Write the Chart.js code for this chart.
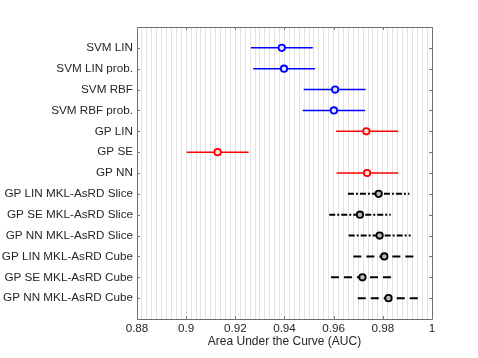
<!DOCTYPE html>
<html><head><meta charset="utf-8">
<script src="https://cdn.jsdelivr.net/npm/chart.js@4"></script>
<style>html,body{margin:0;padding:0;background:#fff}#wrap{width:478px;height:358px}</style>
</head><body><div id="wrap"><canvas id="c"></canvas></div>
<script>
const categories = ["SVM LIN","SVM LIN prob.","SVM RBF","SVM RBF prob.","GP LIN","GP SE","GP NN",
  "GP LIN MKL-AsRD Slice","GP SE MKL-AsRD Slice","GP NN MKL-AsRD Slice",
  "GP LIN MKL-AsRD Cube","GP SE MKL-AsRD Cube","GP NN MKL-AsRD Cube"];
const aucMean = [0.9389,0.9398,0.9606,0.9601,0.9733,0.9128,0.9736,0.9783,0.9707,0.9787,0.9806,0.9717,0.9823];
const aucLow  = [0.9263,0.9273,0.9478,0.9474,0.9610,0.9002,0.9612,0.9658,0.9582,0.9661,0.9680,0.9589,0.9698];
const aucHigh = [0.9515,0.9524,0.9730,0.9728,0.9862,0.9254,0.9862,0.9908,0.9832,0.9913,0.9934,0.9843,0.9951];
const groups  = ["svm","svm","svm","svm","gp","gp","gp","slice","slice","slice","cube","cube","cube"];
const xTicks = [0.88,0.9,0.92,0.94,0.96,0.98,1];

const style = {
  svm:{color:"#0000ff",dash:[],width:1.5},
  gp:{color:"#ff0000",dash:[],width:1.5},
  slice:{color:"#000000",dash:[6,2,2,2],width:2},
  cube:{color:"#000000",dash:[8,5],width:2}
};
const FONT = 'Liberation Sans, Arial, sans-serif';

const datasets = [];
categories.forEach((c,i)=>{
  const s = style[groups[i]];
  datasets.push({type:'line',data:[{x:aucLow[i],y:i+1},{x:aucHigh[i],y:i+1}],
    borderColor:s.color,borderWidth:s.width,borderDash:s.dash,pointRadius:0,fill:false,order:2});
});
datasets.push({type:'scatter',data:aucMean.map((v,i)=>({x:v,y:i+1})),
  pointRadius:3.2,pointBorderWidth:1.8,
  pointBorderColor:groups.map(g=>style[g].color),
  pointBackgroundColor:groups.map(g=>g==='svm'?'#e4e4ff':(g==='gp'?'#ffe4e4':'#bbb')),order:1});

const frame = {
  id:'frame',
  afterDraw(ch){
    const {ctx,chartArea:a,scales:{x,y}} = ch;
    ctx.save();
    ctx.strokeStyle='#6e6e6e';ctx.lineWidth=1;
    ctx.beginPath();
    ctx.rect(Math.round(a.left)+0.5,Math.round(a.top)+0.5,Math.round(a.right-a.left),Math.round(a.bottom-a.top));
    ctx.stroke();
    ctx.strokeStyle='#777';
    ctx.beginPath();
    xTicks.forEach(v=>{const px=Math.round(x.getPixelForValue(v))+0.5;
      ctx.moveTo(px,a.bottom);ctx.lineTo(px,a.bottom-3);
      ctx.moveTo(px,a.top);ctx.lineTo(px,a.top+3);});
    categories.forEach((c,i)=>{const py=Math.round(y.getPixelForValue(i+1))+0.5;
      ctx.moveTo(a.left,py);ctx.lineTo(a.left+3,py);
      ctx.moveTo(a.right,py);ctx.lineTo(a.right-3,py);});
    ctx.stroke();
    ctx.restore();
  }
};

new Chart(document.getElementById('c'),{
  data:{datasets},
  plugins:[frame],
  options:{
    responsive:true,maintainAspectRatio:false,animation:false,
    layout:{padding:{left:0,right:46,top:27,bottom:9}},
    plugins:{legend:{display:false},tooltip:{enabled:false}},
    scales:{
      x:{type:'linear',min:0.88,max:1,
        afterBuildTicks(sc){const t=[];for(let k=0;k<=60;k++)t.push({value:0.88+k*0.002});sc.ticks=t;},
        afterFit(sc){sc.height=30;},
        grid:{color:'#e3e3e3',lineWidth:1,drawTicks:false},
        border:{display:false},
        ticks:{padding:3,color:'#262626',font:{family:FONT,size:11.7},
          autoSkip:false,maxRotation:0,
          callback(v){const r=Math.round(v*1000)/1000;const m=xTicks.find(t=>Math.abs(t-r)<1e-6);return m===undefined?'':String(m);}},
        title:{display:true,text:'Area Under the Curve (AUC)',color:'#262626',
          font:{family:FONT,size:12},padding:{top:0,bottom:0}}
      },
      y:{type:'linear',min:0,max:14,reverse:true,
        afterBuildTicks(sc){sc.ticks=categories.map((c,i)=>({value:i+1}));},
        afterFit(sc){sc.width=137;},
        grid:{display:false,drawTicks:false},
        border:{display:false},
        ticks:{padding:4,color:'#262626',autoSkip:false,font:{family:FONT,size:11.7},
          callback(v){return categories[Math.round(v)-1]||'';}}
      }
    }
  }
});
</script></body></html>
